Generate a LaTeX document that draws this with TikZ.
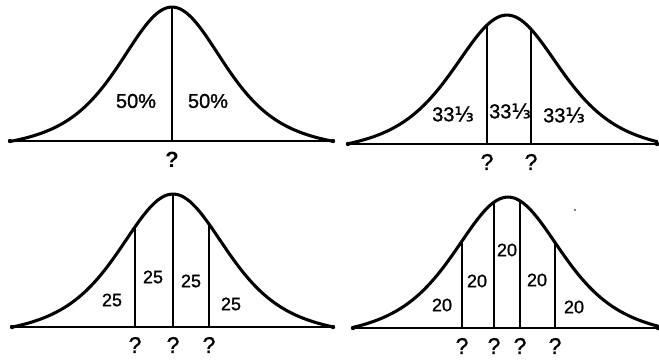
\documentclass[tikz,border=0pt]{standalone}
\usepackage{fontspec}
\setmainfont{Liberation Sans}
\newfontfamily\hand[FakeBold=1.2]{Liberation Sans}
\newfontfamily\dv[FakeBold=1.2]{DejaVu Sans}
\tikzset{
  curve/.style={line width=2.3pt, line cap=round, line join=round},
  baseln/.style={line width=1.5pt, line cap=round},
  divider/.style={line width=1.3pt},
  lbl/.style={inner sep=0pt, font=\hand\fontsize{15}{15}\selectfont},
  numlbl/.style={inner sep=0pt, font=\hand\fontsize{13.5}{13.5}\selectfont},
  qmark/.style={inner sep=0pt, font=\hand\fontsize{17}{17}\selectfont},
}
% #1 centre x, #2 baseline y, #3 height, #4 width scale, #5 left offset, #6 right offset, #7 tail correction
\newcommand\bellcurve[7]{%
  \draw[curve] plot[domain=#5:#6, samples=140]
    ({#1+\x},{#2-#3*((1/cosh(\x/#4))^2-#7*(\x/160)^2)});
  \draw[baseln] (#1+#5,#2) -- (#1+#6,#2);
  \fill (#1+#5,#2) circle (2.2);
  \fill (#1+#6,#2) circle (2.2);
}
% #1 divider x, #2 baseline y, #3 height, #4 centre x, #5 width scale, #6 tail correction
\newcommand\divline[6]{%
  \draw[divider] (#1,#2) -- (#1,{#2-#3*((1/cosh((#1-#4)/#5))^2-#6*((#1-#4)/160)^2)});
}
\begin{document}
\begin{tikzpicture}[x=0.75pt,y=-0.75pt]
\useasboundingbox (0,0) rectangle (659,361);

% Panel 1
\bellcurve{172}{141}{134}{68}{-162}{161}{0.036}
\divline{172}{141}{134}{172}{68}{0.036}
\node[lbl] (a1) at (136,101) {50\%};
\node[lbl] (a2) at (208,101) {50\%};
\node[qmark, font=\bfseries\fontsize{16.5}{16.5}\selectfont] (aq) at (172,160) {?};

% Panel 2
\bellcurve{507}{144}{129}{70}{-159}{150}{0.04}
\divline{487}{144}{129}{507}{70}{0.04}
\divline{531}{144}{129}{507}{70}{0.04}
\node[lbl] (b1) at (453,114) {33{\dv ⅓}};
\node[lbl] (b2) at (510,111) {33{\dv ⅓}};
\node[lbl] (b3) at (564,115) {33{\dv ⅓}};
\node[qmark] (bq1) at (487,162) {?};
\node[qmark] (bq2) at (531,162) {?};

% Panel 3
\bellcurve{173}{327}{133}{70}{-161}{160}{0.04}
\divline{135}{327}{133}{173}{70}{0.04}
\divline{173}{327}{133}{173}{70}{0.04}
\divline{209}{327}{133}{173}{70}{0.04}
\node[numlbl] (c1) at (112,300) {25};
\node[numlbl] (c2) at (153,277) {25};
\node[numlbl] (c3) at (191,281) {25};
\node[numlbl] (c4) at (231,304) {25};
\node[qmark] (cq1) at (135,345) {?};
\node[qmark] (cq2) at (173,345) {?};
\node[qmark] (cq3) at (209,345) {?};

% Panel 4
\bellcurve{508}{328}{131}{70}{-155}{150}{0.045}
\divline{462}{328}{131}{508}{70}{0.045}
\divline{494}{328}{131}{508}{70}{0.045}
\divline{520}{328}{131}{508}{70}{0.045}
\divline{555}{328}{131}{508}{70}{0.045}
\node[numlbl] (d1) at (442,305) {20};
\node[numlbl] (d2) at (477,281) {20};
\node[numlbl] (d3) at (507,250) {20};
\node[numlbl] (d4) at (537,280) {20};
\node[numlbl] (d5) at (574,307) {20};
\node[qmark] (dq1) at (462,346) {?};
\node[qmark] (dq2) at (494,346) {?};
\node[qmark] (dq3) at (520,346) {?};
\node[qmark] (dq4) at (555,346) {?};
\fill (575,210) circle (0.9);
\end{tikzpicture}
\end{document}
